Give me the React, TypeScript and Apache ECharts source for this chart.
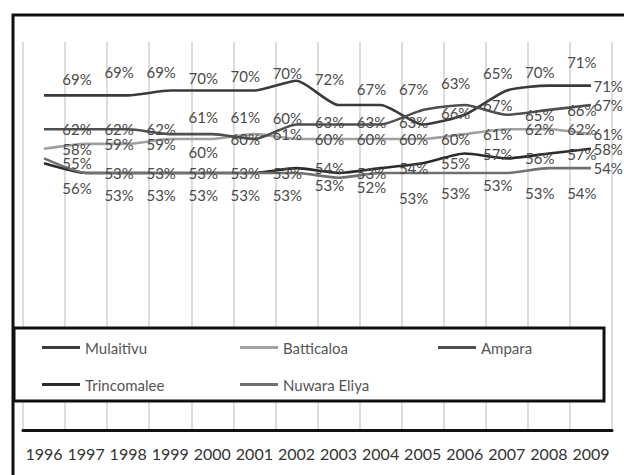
import React, { useEffect, useRef } from "react";
import * as echarts from "echarts";

const years = ["1996", "1997", "1998", "1999", "2000", "2001", "2002", "2003", "2004", "2005", "2006", "2007", "2008", "2009"];
const mulaitivu = [69, 69, 69, 70, 70, 70, 72, 67, 67, 63, 65, 70, 71, 71];
const batticaloa = [58, 59, 59, 60, 60, 61, 60, 60, 60, 60, 61, 62, 62, 61];
const ampara = [62, 62, 62, 61, 61, 60, 63, 63, 63, 66, 67, 65, 66, 67];
const trincomalee = [55, 53, 53, 53, 53, 53, 54, 53, 54, 55, 57, 56, 57, 58];
const nuwaraEliya = [56, 53, 53, 53, 53, 53, 53, 52, 53, 53, 53, 53, 54, 54];

const seriesNames = ["Mulaitivu", "Batticaloa", "Ampara", "Trincomalee", "Nuwara Eliya"];
const seriesColors = ["#3a3a3a", "#a0a0a0", "#4f4f4f", "#2a2a2a", "#707070"];

// label vertical shifts (layout only)
const shiftMulaitivu = [-16, -23, -23, -13, -15, -18, -2, -16, -16, -41, -42, -19, -24, 0];
const shiftBatticaloa = [0, 0, 0, 13, 0, 0, 0, 0, 0, 0, 0, 0, 0, 0];
const shiftAmpara = [0, 0, 0, -17, -17, -21, -2, -2, -2, 3, 0, 0, 0, 0];
const shiftTrincomalee = [0, 0, 0, 0, 0, 0, 0, 0, 0, 0, 0, 0, 0, 0];
const shiftNuwara = [30, 22, 22, 22, 22, 22, 12, 9, 25, 20, 12, 20, 25, 0];

const FONT = "Lato";

function buildSeries(name: string, values: number[], shifts: number[], color: string) {
  const last = values.length - 1;
  return {
    name,
    type: "line",
    smooth: 0.2,
    symbol: "circle",
    symbolSize: 1,
    itemStyle: { color, opacity: 0 },
    lineStyle: { color, width: 2.6, opacity: 1 },
    emphasis: { disabled: true },
    data: values.map((v, i) => ({
      value: v,
      label:
        i === last
          ? { position: "right", distance: 2, offset: [0, shifts[i]] }
          : { position: "inside", offset: [33, shifts[i]] },
    })),
    label: {
      show: true,
      formatter: (p: any) => p.value + "%",
      color: "#4a4a4a",
      opacity: 1,
      fontFamily: FONT,
      fontSize: 15,
    },
  };
}

export default function App() {
  const ref = useRef<HTMLDivElement>(null);
  useEffect(() => {
    if (!ref.current) return;
    const chart = echarts.init(ref.current, null, { renderer: "svg" });
    chart.setOption({
      animation: false,
      backgroundColor: "#ffffff",
      grid: { left: 23, right: 12, top: 42, bottom: 45, containLabel: false },
      xAxis: {
        type: "category",
        data: years,
        boundaryGap: true,
        axisLine: { show: true, lineStyle: { color: "#111", width: 3 } },
        axisTick: { show: false },
        axisLabel: { color: "#333", fontFamily: FONT, fontSize: 16, margin: 15, interval: 0 },
        splitLine: { show: true, interval: 0, lineStyle: { color: "#d2d2d2", width: 1.5 } },
      },
      yAxis: {
        type: "value",
        min: 0,
        max: 80,
        show: false,
        splitLine: { show: false },
      },
      legend: {
        data: seriesNames.map((n, i) => ({
          name: n,
          itemStyle: { color: seriesColors[i], opacity: 1 },
        })),
        left: 42,
        top: 340,
        width: 580,
        orient: "horizontal",
        itemWidth: 38,
        itemHeight: 3,
        itemGap: 22,
        icon: "rect",
        z: 20,
        padding: 0,
        textStyle: { color: "#555", fontFamily: FONT, fontSize: 15, width: 133, lineHeight: 14 },
      },
      graphic: [
        {
          type: "rect",
          z: 10,
          shape: { x: 14, y: 328, width: 590, height: 73 },
          style: { fill: "#fff", stroke: "#111", lineWidth: 3 },
        },
        {
          type: "rect",
          z: 10,
          shape: { x: 13, y: 15, width: 640, height: 500 },
          style: { fill: "none", stroke: "#111", lineWidth: 3 },
        },
      ],
      series: [
        buildSeries(seriesNames[0], mulaitivu, shiftMulaitivu, seriesColors[0]),
        buildSeries(seriesNames[1], batticaloa, shiftBatticaloa, seriesColors[1]),
        buildSeries(seriesNames[2], ampara, shiftAmpara, seriesColors[2]),
        buildSeries(seriesNames[3], trincomalee, shiftTrincomalee, seriesColors[3]),
        buildSeries(seriesNames[4], nuwaraEliya, shiftNuwara, seriesColors[4]),
      ],
    });
    return () => chart.dispose();
  }, []);
  return (
    <div
      ref={ref}
      style={{ position: "fixed", left: 0, top: 0, width: 624, height: 475, background: "#fff" }}
    />
  );
}
